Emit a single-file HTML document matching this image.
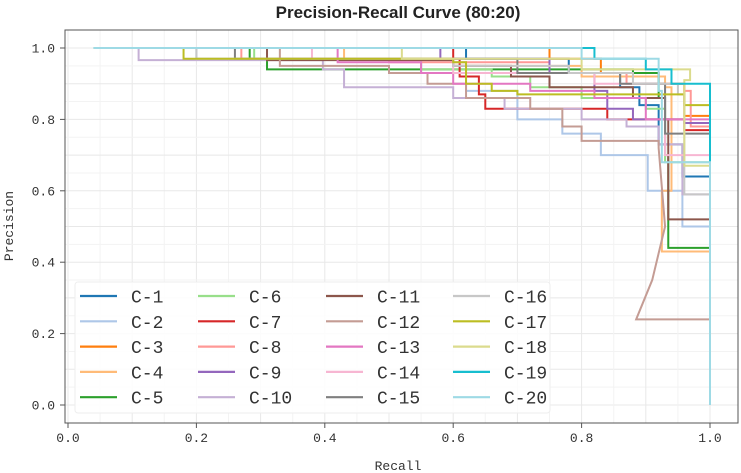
<!DOCTYPE html>
<html><head><meta charset="utf-8"><style>
html,body{margin:0;padding:0;background:#fff;width:741px;height:473px;overflow:hidden}
svg{display:block}
.mono{font-family:"Liberation Mono","DejaVu Sans Mono",monospace}
</style></head><body>
<svg id="chart" width="741" height="473" xmlns="http://www.w3.org/2000/svg">
<text x="398" y="18" text-anchor="middle" font-family="Liberation Sans, sans-serif" font-weight="bold" font-size="17" fill="#222">Precision-Recall Curve (80:20)</text>
<g id="grid"></g>
<g id="series"></g>
<rect x="65" y="30" width="673" height="393" fill="none" stroke="#555" stroke-width="1"/>
<g id="axes"></g>
<text x="398" y="470" text-anchor="middle" class="mono" font-size="13" fill="#333">Recall</text>
<text transform="translate(13,226) rotate(-90)" text-anchor="middle" class="mono" font-size="13" fill="#333">Precision</text>
<g id="legend"></g>
</svg>
<script>
const names = ["C-1","C-2","C-3","C-4","C-5","C-6","C-7","C-8","C-9","C-10","C-11","C-12","C-13","C-14","C-15","C-16","C-17","C-18","C-19","C-20"];
const colors = ["#1f77b4","#aec7e8","#ff7f0e","#ffbb78","#2ca02c","#98df8a","#d62728","#ff9896","#9467bd","#c5b0d5","#8c564b","#c49c94","#e377c2","#f7b6d2","#7f7f7f","#c7c7c7","#bcbd22","#dbdb8d","#17becf","#9edae5"];
const xTicks = [0.0,0.2,0.4,0.6,0.8,1.0];
const yTicks = [0.0,0.2,0.4,0.6,0.8,1.0];
const xTickLabels = ["0.0","0.2","0.4","0.6","0.8","1.0"];
const yTickLabels = ["0.0","0.2","0.4","0.6","0.8","1.0"];
const c1 = [[0.04,1],[0.62,0.97],[0.78,0.93],[0.86,0.89],[0.89,0.84],[0.92,0.73],[0.957,0.64]];
const c2 = [[0.04,1],[0.2,0.97],[0.55,0.93],[0.62,0.88],[0.7,0.8],[0.77,0.76],[0.83,0.7],[0.903,0.6],[0.957,0.5]];
const c3 = [[0.04,1],[0.75,0.97],[0.83,0.93],[0.92,0.9],[0.96,0.81]];
const c4 = [[0.04,1],[0.43,0.97],[0.6,0.95],[0.8,0.92],[0.93,0.89],[0.94,0.6],[0.925,0.43]];
const c5 = [[0.04,1],[0.283,0.97],[0.31,0.94],[0.88,0.93],[0.92,0.86],[0.93,0.7],[0.935,0.44]];
const c6 = [[0.04,1],[0.29,0.97],[0.55,0.94],[0.66,0.92],[0.72,0.89],[0.8,0.86],[0.9,0.83],[0.93,0.68]];
const c7 = [[0.04,1],[0.6,0.97],[0.61,0.92],[0.64,0.87],[0.65,0.83],[0.84,0.8],[0.96,0.77]];
const c8 = [[0.04,1],[0.27,0.97],[0.5,0.96],[0.75,0.93],[0.87,0.9],[0.96,0.88],[0.97,0.78]];
const c9 = [[0.04,1],[0.58,0.97],[0.75,0.93],[0.82,0.88],[0.84,0.83],[0.88,0.8],[0.96,0.79]];
const c10 = [[0.04,1],[0.11,0.966],[0.397,0.94],[0.43,0.89],[0.6,0.86],[0.68,0.83],[0.8,0.8],[0.87,0.78],[0.92,0.73],[0.957,0.59]];
const c11 = [[0.04,1],[0.31,0.966],[0.6,0.95],[0.69,0.92],[0.75,0.89],[0.88,0.86],[0.93,0.8],[0.935,0.52]];
const c12 = [[0.04,1],[0.33,0.95],[0.5,0.93],[0.56,0.9],[0.62,0.86],[0.72,0.83],[0.77,0.78],[0.8,0.74],[0.92,0.72]];
const c12CurveTail = [[0.93,0.5],[0.91,0.35],[0.885,0.24]];
const c13 = [[0.04,1],[0.42,0.96],[0.55,0.93],[0.6,0.9],[0.72,0.88],[0.82,0.86],[0.9,0.8]];
const c14 = [[0.04,1],[0.38,0.97],[0.6,0.93],[0.82,0.9],[0.93,0.7]];
const c15 = [[0.04,1],[0.26,0.97],[0.7,0.93],[0.86,0.9],[0.93,0.76]];
const c16 = [[0.04,1],[0.2,0.97],[0.6,0.95],[0.78,0.93],[0.88,0.9],[0.95,0.87],[0.96,0.59]];
const c17 = [[0.04,1],[0.18,0.97],[0.6,0.96],[0.62,0.9],[0.66,0.88],[0.7,0.87],[0.88,0.87],[0.96,0.84]];
const c18 = [[0.04,1],[0.52,0.97],[0.8,0.94],[0.969,0.91],[0.96,0.67]];
const c19 = [[0.04,1],[0.82,0.97],[0.9,0.94],[0.94,0.9]];
const c20 = [[0.04,1],[0.8,0.97],[0.92,0.88],[0.925,0.68]];
const dropTo = {"C-19":0.68,"C-20":0.0};
const seriesData = [c1,c2,c3,c4,c5,c6,c7,c8,c9,c10,c11,c12,c13,c14,c15,c16,c17,c18,c19,c20];

const X = r => 68 + 642*r;
const Y = p => 405 - 357*p;
const NS = "http://www.w3.org/2000/svg";
function mk(tag, attrs, parent){const e=document.createElementNS(NS,tag);for(const k in attrs)e.setAttribute(k,attrs[k]);parent.appendChild(e);return e;}

const grid = document.getElementById('grid');
for(let i=0;i<=20;i++){const v=i*0.05;
  const gx=mk('line',{x1:X(v),x2:X(v),y1:30,y2:423,stroke:i%2?'#f3f3f3':'#e8e8e8','stroke-width':1},grid);
  
  
  const gy=mk('line',{x1:65,x2:738,y1:Y(v),y2:Y(v),stroke:i%2?'#f3f3f3':'#e8e8e8','stroke-width':1},grid);
  
  
}
const axes = document.getElementById('axes');
xTicks.forEach((v,i)=>{
  const t=mk('line',{x1:X(v),x2:X(v),y1:423,y2:428,stroke:'#555'},axes);
  
  
  const l=mk('text',{x:X(v),y:442,'text-anchor':'middle','font-size':13,fill:'#333',class:'mono'},axes);
  l.textContent=xTickLabels[i];
  
  
});
yTicks.forEach((v,i)=>{
  const t=mk('line',{x1:60,x2:65,y1:Y(v),y2:Y(v),stroke:'#555'},axes);
  
  
  const l=mk('text',{x:55,y:Y(v)+4.5,'text-anchor':'end','font-size':13,fill:'#333',class:'mono'},axes);
  l.textContent=yTickLabels[i];
  
  
});

const sg = document.getElementById('series');
seriesData.forEach((pts,i)=>{
  let d=`M${X(pts[0][0])},${Y(pts[0][1])}`;
  for(let k=1;k<pts.length;k++){d+=` H${X(pts[k][0])} V${Y(pts[k][1])}`;}
  if(names[i]==="C-12"){c12CurveTail.forEach(q=>{d+=` L${X(q[0])},${Y(q[1])}`;});}
  d+=` H${X(1)}`;
  if(dropTo[names[i]]!==undefined){d+=` V${Y(dropTo[names[i]])}`;}
  const p=mk('path',{d:d,fill:'none',stroke:colors[i],'stroke-width':2,'stroke-linejoin':'miter'},sg);
  
  
});

const lg = document.getElementById('legend');
const box=mk('rect',{x:75,y:282,width:475,height:131,fill:'#fff','fill-opacity':0.85,stroke:'#eee',rx:3},lg);


const colX=[80,198,326,453];
names.forEach((n,i)=>{
  const c=Math.floor(i/5), r=i%5, y=296+r*25.3;
  const g=mk('g',{},lg);
  
  
  mk('line',{x1:colX[c],x2:colX[c]+37,y1:y,y2:y,stroke:colors[i],'stroke-width':2.2},g);
  const t=mk('text',{x:colX[c]+51,y:y+6.5,'font-size':18,fill:'#333',class:'mono'},g);
  t.textContent=n;
});
</script>
</body></html>
